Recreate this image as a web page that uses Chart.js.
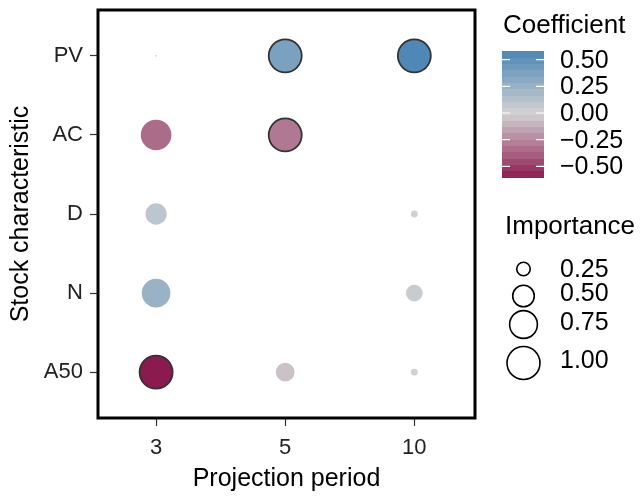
<!DOCTYPE html>
<html>
<head>
<meta charset="utf-8">
<script src="https://cdn.jsdelivr.net/npm/chart.js@4"></script>
<style>
html, body { margin: 0; padding: 0; background: #fff; }
#wrap { width: 643px; height: 496px; }
</style>
</head>
<body>
<div id="wrap"><canvas id="bubbleChart" width="643" height="496"></canvas></div>
<script>
var periods = ['3', '5', '10'];
var characteristics = ['PV', 'AC', 'D', 'N', 'A50'];
// coefficient for each characteristic, one array per projection period (null = no point)
var coef3 = [0.00, -0.34, 0.10, 0.25, -0.61];
var coef5 = [0.38, -0.30, null, null, -0.06];
var coef10 = [0.57, null, 0.02, 0.05, 0.01];
// importance, same layout
var imp3 = [0.04, 0.88, 0.49, 0.79, 1.00];
var imp5 = [1.00, 1.00, null, null, 0.40];
var imp10 = [1.00, null, 0.11, 0.34, 0.11];
var coefTicks = [0.5, 0.25, 0, -0.25, -0.5];
var importanceTicks = [0.25, 0.5, 0.75, 1];

var FONT = '"Liberation Sans", Arial, sans-serif';
var lowCol = [139, 26, 79], midCol = [211, 211, 211], highCol = [70, 130, 180];

function coefColor(v) {
	var t = Math.max(-1, Math.min(1, v / 0.61));
	var end = t < 0 ? lowCol : highCol;
	var a = Math.abs(t);
	var c = midCol.map(function(m, i) { return Math.round(m + (end[i] - m) * a); });
	return 'rgb(' + c.join(',') + ')';
}
function bubbleRadius(v) {
	return Math.max(1, -3 + 19.5 * Math.sqrt(v));
}
function fmt(v) {
	var s = Math.abs(v).toFixed(2);
	return v < 0 ? '\u2212' + s : s;
}

var coefByPeriod = [coef3, coef5, coef10];
var impByPeriod = [imp3, imp5, imp10];
var points = [];
periods.forEach(function(p, i) {
	characteristics.forEach(function(c, j) {
		if (coefByPeriod[i][j] === null) return;
		points.push({ x: i, y: j, r: bubbleRadius(impByPeriod[i][j]), coef: coefByPeriod[i][j], imp: impByPeriod[i][j] });
	});
});

var panelBorder = {
	id: 'panelBorder',
	afterDatasetsDraw: function(chart) {
		var a = chart.chartArea, ctx = chart.ctx;
		ctx.save();
		ctx.strokeStyle = '#000';
		ctx.lineWidth = 3;
		ctx.strokeRect(a.left, a.top, a.right - a.left, a.bottom - a.top);
		ctx.restore();
	}
};

var sideLegend = {
	id: 'sideLegend',
	afterDraw: function(chart) {
		var ctx = chart.ctx;
		ctx.save();
		ctx.fillStyle = '#000';
		ctx.textAlign = 'left';
		ctx.textBaseline = 'alphabetic';
		ctx.font = '26px ' + FONT;
		ctx.fillText('Coefficient', 503, 33);

		// colour bar
		var barX = 502, barW = 42, zeroY = 113, perUnit = 106.7;
		var top = 0.58, bottom = -0.60, nbin = 20;
		var step = (top - bottom) / nbin;
		for (var b = 0; b < nbin; b++) {
			var v0 = bottom + b * step, v1 = v0 + step;
			ctx.fillStyle = coefColor((v0 + v1) / 2);
			var y0 = zeroY - v1 * perUnit, y1 = zeroY - v0 * perUnit;
			ctx.fillRect(barX, Math.floor(y0), barW, Math.ceil(y1) - Math.floor(y0));
		}
		ctx.strokeStyle = '#fff';
		ctx.lineWidth = 1.2;
		ctx.font = '25px ' + FONT;
		ctx.textBaseline = 'middle';
		coefTicks.forEach(function(v) {
			var y = zeroY - v * perUnit;
			ctx.beginPath();
			ctx.moveTo(barX, y); ctx.lineTo(barX + 8, y);
			ctx.moveTo(barX + barW - 8, y); ctx.lineTo(barX + barW, y);
			ctx.stroke();
			ctx.fillStyle = '#000';
			ctx.fillText(fmt(v), 560, y + 1);
		});

		// size legend
		ctx.textBaseline = 'alphabetic';
		ctx.font = '26px ' + FONT;
		ctx.fillText('Importance', 505, 234);
		var circleY = [269, 296, 324.5, 363];
		var labelY = [270.5, 294, 323, 361];
		ctx.font = '25px ' + FONT;
		ctx.textBaseline = 'middle';
		importanceTicks.forEach(function(v, i) {
			ctx.beginPath();
			ctx.arc(523.5, circleY[i], bubbleRadius(v), 0, Math.PI * 2);
			ctx.strokeStyle = '#000';
			ctx.lineWidth = 1.6;
			ctx.stroke();
			ctx.fillStyle = '#000';
			ctx.fillText(v.toFixed(2), 560, labelY[i]);
		});
		ctx.restore();
	}
};

new Chart(document.getElementById('bubbleChart'), {
	type: 'bubble',
	data: {
		datasets: [{
			label: 'Coefficient',
			data: points,
			backgroundColor: function(c) { return c.raw ? coefColor(c.raw.coef) : '#ccc'; },
			borderColor: '#333',
			borderWidth: function(c) { return c.raw && c.raw.imp >= 1 ? 1.8 : 0; },
			hoverRadius: 0,
			hoverBorderWidth: 0
		}]
	},
	options: {
		responsive: false,
		animation: false,
		events: [],
		layout: { autoPadding: false, padding: { left: 0, top: 10, right: 168, bottom: 0 } },
		plugins: {
			legend: { display: false },
			tooltip: { enabled: false }
		},
		scales: {
			x: {
				type: 'linear',
				position: 'bottom',
				min: -0.45,
				max: 2.47,
				afterBuildTicks: function(s) { s.ticks = periods.map(function(p, i) { return { value: i }; }); },
				afterFit: function(s) { s.height = 78; s.paddingLeft = 0; s.paddingRight = 0; },
				ticks: {
					callback: function(v) { return periods[v]; },
					font: { family: FONT, size: 22 },
					color: '#222',
					padding: 9,
					maxRotation: 0,
					autoSkip: false
				},
				grid: { drawOnChartArea: false, drawTicks: true, tickLength: 8, tickColor: '#333', tickWidth: 1.2 },
				border: { display: false },
				title: { display: true, text: 'Projection period', color: '#000', font: { family: FONT, size: 25 }, padding: { top: 0, bottom: 2 } }
			},
			y: {
				type: 'linear',
				reverse: true,
				min: -0.58,
				max: 4.58,
				afterBuildTicks: function(s) { s.ticks = characteristics.map(function(c, i) { return { value: i }; }); },
				afterFit: function(s) { s.width = 98; s.paddingTop = 0; s.paddingBottom = 0; },
				ticks: {
					callback: function(v) { return characteristics[v]; },
					font: { family: FONT, size: 22 },
					color: '#222',
					padding: 7,
					autoSkip: false
				},
				grid: { drawOnChartArea: false, drawTicks: true, tickLength: 8, tickColor: '#333', tickWidth: 1.2 },
				border: { display: false },
				title: { display: true, text: 'Stock characteristic', color: '#000', font: { family: FONT, size: 25 }, padding: { top: 6, bottom: 0 } }
			}
		}
	},
	plugins: [panelBorder, sideLegend]
});
</script>
</body>
</html>
